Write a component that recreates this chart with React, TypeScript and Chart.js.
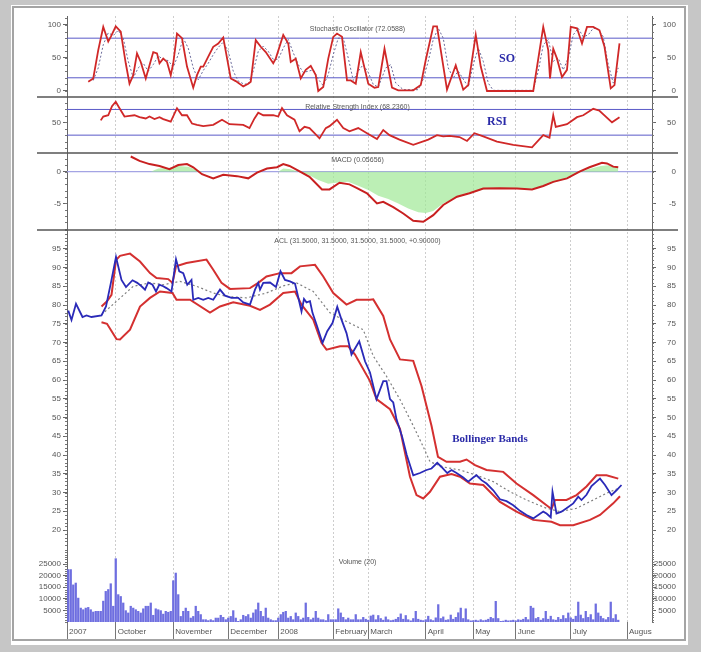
import React, { useEffect, useRef } from 'react';
import { Chart, registerables } from 'chart.js';
Chart.register(...registerables);

type P = [number, number];

// ---- x axis (trading-day index) ----
const monthLabels = ['2007', 'October', 'November', 'December', '2008', 'February', 'March', 'April', 'May', 'June', 'July', 'Augus'];
const monthIndex = [-0.5, 19, 42, 64, 84, 106, 120, 143, 162, 179, 201, 223.5];

// ---- Stochastic Oscillator ----
const soK: P[] = [[8,14],[10,19],[12,62],[14,97],[16,75],[17,82],[19,98],[21,90],[23,42],[24.5,11],[26,24],[27.5,57],[29,44],[31,19],[32.5,39],[34,59],[35.5,57],[36.5,42],[38,49],[39.5,44],[41,24],[42,42],[43.5,87],[45.5,80],[47.5,37],[50,5],[51.5,24],[53,37],[54,37],[56,52],[58,67],[60,72],[62,81],[65,19],[67,15],[70,7],[72,11],[73,14],[75,77],[77,67],[79,59],[82,42],[83,49],[86,85],[88,72],[89,44],[91,49],[93,19],[95,32],[97,38],[99,24],[100,0],[102,6],[104,49],[106,82],[107.5,87],[109.5,82],[111.5,16],[113,16],[115,11],[117,59],[120,11],[122.5,5],[124,6],[126.5,64],[129.5,5],[132,1],[138,1],[141,9],[143,47],[146,98],[147.5,98],[149,62],[151.5,2],[155,39],[158,2],[160,9],[163,85],[165,37],[167.5,0],[186,0],[190,97],[192,62],[192.7,19],[194,64],[195.5,49],[197.5,21],[199.5,32],[201,97],[203.5,95],[205.5,72],[207.5,97],[210,97],[212.5,92],[214.5,67],[217,4],[218.5,9],[220.5,72]];
const soD: P[] = [[10,16],[12,35],[14,70],[16,88],[18,84],[20,92],[22,80],[24,45],[26,20],[28,35],[30,42],[32,30],[34,40],[36,53],[38,48],[40,46],[42,36],[44,55],[46,80],[48,65],[50,35],[52,17],[54,31],[56,42],[58,55],[60,66],[62,74],[64,60],[66,30],[68,15],[70,11],[72,10],[74,30],[76,60],[78,68],[80,60],[82,48],[84,48],[86,65],[88,78],[90,58],[92,40],[94,28],[96,30],[98,32],[100,18],[102,8],[104,25],[106,55],[108,80],[110,80],[112,50],[114,16],[116,30],[118,40],[120,28],[122,10],[124,6],[127,35],[129,40],[131,12],[134,2],[140,2],[142,18],[144,45],[146,78],[148,95],[150,80],[152,35],[154,20],[156,30],[158,18],[160,6],[162,40],[164,65],[166,45],[168,12],[170,1],[186,1],[188,30],[190,70],[192,78],[194,45],[196,50],[198,32],[200,50],[202,85],[204,95],[206,82],[208,85],[210,95],[212,94],[214,82],[216,40],[218,12],[220,35]];
const soLevels = [80, 20];

// ---- RSI ----
const rsi: P[] = [[13,53],[14,59],[16,61],[17.5,75],[19,82],[20.5,72],[22.5,59],[24.5,60],[26.5,61],[28.5,58],[31,56],[32.5,59],[34.5,55],[36.5,58],[38,55],[41,51],[43.5,72],[45.5,61],[47.5,61],[49.5,48],[51.5,46],[54,44],[58,46],[61.5,54],[64.5,47],[70,46],[72.5,41],[74.5,56],[76,65],[78,61],[82,61],[84,59],[85.5,72],[87.5,61],[90.5,54],[92.5,36],[94.5,43],[96.5,41],[98.5,33],[100.5,25],[103,41],[104.5,44],[107.5,54],[110,41],[112.5,36],[116,41],[119.5,33],[123.5,24],[126,38],[128.5,30],[132.5,23],[138,15],[144,23],[147.5,30],[150,28],[152.5,29],[156.5,27],[159.5,21],[162.5,33],[166,28],[171.5,20],[178,15],[185.5,11],[190,30],[192.5,26],[194,61],[195,43],[199.5,47],[203.5,58],[206,61],[210,71],[212.5,68],[217.5,50],[220.5,58]];
const rsiLevels = [70, 30];

// ---- MACD ----
const macd: P[] = [[25,2.4],[28.5,1.7],[32.5,1.2],[36.5,0.9],[40.5,0.4],[44,1.05],[47.5,1.2],[50,0.7],[53.5,-0.4],[58,-1.05],[62,-0.5],[67.5,-0.7],[72,-1.05],[75.5,-0.15],[79.5,0.5],[83.5,0.7],[86,1.2],[88.5,0.9],[92,0.15],[96.5,-0.8],[101.5,-2.8],[104.5,-2.8],[108.5,-1.75],[112.5,-2.0],[115.5,-2.6],[119.5,-3.4],[123.5,-5.0],[126,-4.75],[130,-5.6],[134,-6.6],[138,-7.75],[142,-7.9],[146,-6.85],[150,-5.25],[155.5,-3.95],[160.5,-3.4],[166,-2.65],[172.5,-2.6],[179.5,-2.65],[185.5,-2.8],[190,-2.25],[194,-1.6],[199.5,-1.05],[204.5,0],[208.5,0.7],[213.5,1.4],[215.5,1.3],[218,0.8],[220,0.7]];
const macdSignal: P[] = [[33,0],[36,0.5],[40,0.6],[44,0.9],[48,0.8],[52,0.2],[54,0],[84,0],[86,0.5],[89,0.4],[92,0],[96,-0.5],[100,-1.3],[104,-1.9],[108,-1.7],[112,-1.6],[116,-2.2],[120,-2.9],[124,-3.8],[128,-4.3],[132,-5.0],[136,-5.8],[140,-6.4],[143,-6.5],[146,-6.2],[150,-5.0],[155,-4.1],[160,-3.5],[166,-2.8],[172,-2.6],[179,-2.6],[185,-2.7],[190,-2.3],[194,-1.7],[199,-1.1],[204,-0.2],[208,0.4],[213,0.9],[216,1.0],[220,0.8]];
const macdLevels = [0];

// ---- ACL price and Bollinger Bands ----
const acl: P[] = [[0,78.5],[1.3,76],[3.1,80.3],[5.7,76.8],[7.3,77.2],[9.3,76.8],[13.3,77.2],[15.1,79.6],[17.3,86.7],[19.1,92.8],[21.3,86.7],[23.1,84.8],[25.7,86.6],[27.6,85.9],[29.3,85],[30.7,84.1],[32,86],[33.7,85.4],[35.1,83.6],[36.4,85.4],[38,85],[39.3,84.5],[41.3,83.6],[43.1,92.2],[44.4,89],[46,88.5],[47.6,85.4],[49.3,86.7],[50,81.4],[52,81.9],[54,81.4],[56,81.9],[58,81.4],[60.7,84.1],[62.7,82.5],[65.3,81.9],[68,81.9],[70,80.7],[72.7,80.1],[74.7,84.1],[76,85.9],[76.7,84.1],[78,85.9],[80.7,86],[83.1,84.8],[84.9,89],[86.7,86.7],[88.7,86.3],[90.7,85.7],[91.6,83.2],[93.3,78.3],[94.3,81.6],[95.3,80.7],[96.7,81],[97.7,77.9],[99.3,74.8],[101.7,69.9],[103.6,73],[105.7,75.2],[107.6,79.5],[109.3,76.1],[111.3,72.5],[113.3,66.8],[116.4,70.3],[118.7,65],[120.7,62],[123.3,54.9],[126,59.7],[127.3,59.7],[128.7,54.9],[130,54],[131.3,49.5],[133.5,45],[135.4,40],[138,34.6],[140.7,35.2],[143.3,36],[145.3,36.4],[147.6,37.9],[149.3,36.8],[151.6,35.2],[153.3,36],[155.3,35.2],[158,34],[160,32.9],[162,34],[163.3,34.6],[165.3,33.3],[167.3,32.4],[170,30.6],[172.7,28.2],[175.3,27.7],[178,26.6],[180.7,25.1],[183.3,24],[186,23.1],[188,24],[190,24.9],[191.3,24.4],[193,23.4],[193.7,30.2],[195.3,24.4],[197.3,24.9],[199.3,25.8],[202,27.1],[204,28.9],[205.3,28],[207.3,29.4],[209.3,31.7],[211.3,32.9],[212.7,33.7],[214.7,32],[217.3,29.3],[219.3,30.6],[221.3,32]];
const bbUpper: P[] = [[13.3,79.6],[15.5,81],[17.3,82.7],[19.1,92],[20.7,93.1],[24.7,93.7],[28.7,91.6],[32.7,88.5],[35.3,87.2],[40,86.9],[41.7,85.9],[43.1,90.3],[47.3,91.2],[55.3,92.1],[58,89.4],[61.3,85.9],[64.7,84.3],[72.7,84.5],[76,85.9],[79.3,87.6],[84.7,88.5],[89.3,88.5],[92.7,90.3],[98.7,90.7],[102,87.6],[106,83.2],[111.3,80.1],[115.3,81.4],[120.7,81.4],[122,81.5],[126,77.1],[128.7,70.8],[132.7,65.5],[138,65.1],[141.3,58.4],[145.3,47.8],[147.9,39.5],[151.3,38.2],[156.7,38.2],[159.3,38.8],[162.7,37.3],[167.3,36],[174,35.5],[179.3,32.4],[186,29.3],[191.3,26.6],[193.3,25.6],[194.7,28],[199.3,28],[203.3,29.3],[207.3,31.6],[211.3,34.6],[215.3,34.6],[220,33.7]];
const bbLower: P[] = [[13.3,75.4],[15.5,75],[19.3,70.9],[20.7,70.8],[24.7,73.4],[28.7,79.6],[32.7,81.9],[36.7,83.6],[41.7,83.2],[43.3,81.4],[48.7,81.4],[56.7,78],[60.7,79.6],[66,80.7],[72.7,79.8],[76.7,78.7],[80.7,80.1],[86,83.2],[90.7,83.6],[93.3,80.1],[98,76.1],[101.3,69.9],[103.3,68.1],[108.7,69],[112,69],[114.7,66.8],[120.7,59.7],[123.3,54.9],[128.7,52.2],[132.7,47],[136.7,34.2],[139.3,29.3],[142,28.4],[144.7,30.2],[148.7,34.2],[153.3,34.9],[156.7,34.2],[160.7,32.4],[166,32],[172.7,27.5],[179.3,24.9],[186,22.7],[193.3,22.2],[196.7,21.3],[202,21.3],[208.7,22.7],[212.7,24],[218,27.1],[220.7,29]];
const bbMiddle: P[] = [[13.3,77.4],[19.3,81],[26,85],[32.7,85.9],[38,85.4],[44.7,86.3],[51.3,85],[58,83.2],[63.3,82.3],[71.3,81.9],[79.3,83.2],[86,85.1],[91.3,85.9],[98,83.6],[104.7,77.9],[111.3,75.6],[118,73.4],[122,66.4],[127.3,61],[132.7,54.8],[138,47.8],[142,42.2],[144.7,38.2],[150,36.8],[156.7,36],[163.3,34.6],[170,32.9],[176.7,30.2],[183.3,28],[191.3,25.8],[196.7,24.9],[203.3,25.8],[210,28],[215.3,29.8],[220,31.1]];

// ---- Volume (thousands), one bar per trading day from index 0 ----
const volume = [22.6,22.6,16,16.8,10.3,6,5.3,6,6.3,5.3,4.3,4.6,4.6,4.6,9,13.2,14,16.5,6.8,27.3,11.8,11,8.2,4.9,3.9,6.8,6,5.3,4.6,3.9,5.7,6.8,6.8,8.2,2.9,5.7,5.3,4.9,3.4,4.6,4.2,4.6,17.8,21.1,11.8,2.4,4.6,6,4.6,1.7,2.4,6.8,4.6,3.2,1,1,0.6,1,0.6,1.7,1.7,2.9,2,1,1.7,2.4,4.9,1.7,0.3,1,2.9,2.4,3.2,1.7,3.9,5.3,8.2,4.6,2.4,6,1.7,1,0.6,0.6,1.7,3.2,4.2,4.6,1.7,2.4,1,3.9,2.4,1,1.7,8.2,2,1,1.7,4.6,1.7,1,1,0.6,3.2,1,1,1,5.7,3.9,2,1,1.7,1,1,3.2,1,
  1.0,2.0,1.2,0.8,2.6,3.0,1.0,2.8,1.5,0.8,2.2,1.0,0.6,0.8,1.2,2.0,3.5,1.2,2.8,1.0,0.5,1.5,4.6,1.2,0.8,0.6,1.0,2.5,1.0,0.6,1.8,7.5,1.5,2.2,0.8,1.0,3.0,1.2,2.0,4.0,6.0,1.5,5.7,1.0,0.5,0.6,0.8,0.5,1.0,0.6,0.8,1.2,2.0,1.5,8.9,1.5,0.3,0.4,0.8,0.5,0.6,0.8,0.5,1.0,0.8,1.2,2.0,1.0,6.8,6.0,1.5,2.0,0.8,1.5,4.6,1.2,2.5,1.0,0.8,2.0,1.2,2.8,1.5,3.9,1.8,1.2,2.5,8.6,3.0,1.5,4.6,2.0,3.2,1.0,7.8,3.9,2.5,1.5,1.0,2.0,8.6,1.5,3.2,0.8];

const soTicks = [0, 50, 100];
const rsiTicks = [50];
const macdTicks = [-5, 0];
const aclTicks = [20, 25, 30, 35, 40, 45, 50, 55, 60, 65, 70, 75, 80, 85, 90, 95];
const volTicks = [5, 10, 15, 20, 25];

const titles: Record<string, string> = {
  so: 'Stochastic Oscillator (72.0588)',
  rsi: 'Relative Strength Index (68.2360)',
  macd: 'MACD (0.05656)',
  acl: 'ACL (31.5000, 31.5000, 31.5000, 31.5000, +0.90000)',
  vol: 'Volume (20)',
};

const F = '"Liberation Sans Narrow", "Arial Narrow", "Liberation Sans", Arial, sans-serif';
const X_MIN = -0.5;
const X_MAX = 233.5;

const xy = (pts: P[]) => pts.map(([x, y]) => ({ x, y }));
const levelLine = (v: number) => [{ x: X_MIN, y: v }, { x: X_MAX, y: v }];

function line(data: any[], yAxisID: string, color: string, width: number, order: number, extra: any = {}) {
  return { type: 'line', data, yAxisID, xAxisID: 'x', borderColor: color, borderWidth: width, pointRadius: 0, tension: 0, fill: false, order, ...extra };
}

function yScale(pos: 'left' | 'right', weight: number, stackWeight: number, min: number, max: number, vals: number[], cb?: (v: number) => string) {
  return {
    type: 'linear', position: pos, stack: pos === 'left' ? 'L' : 'R', stackWeight, weight, min, max,
    afterBuildTicks: (s: any) => { s.ticks = vals.map((v) => ({ value: v })); },
    afterFit: (s: any) => { s.width = pos === 'left' ? 67 : 24; },
    grid: { drawOnChartArea: false, drawTicks: true, tickLength: 4, tickColor: '#666', tickWidth: 1 },
    border: { display: true, color: '#666', width: 1 },
    ticks: { autoSkip: false, padding: 2, color: '#555', font: { family: F, size: 8 }, crossAlign: pos === 'left' ? 'near' : 'far', callback: cb || ((v: number) => String(v)) },
  };
}

const volFmt = (v: number) => String(v * 1000);

const overlayPlugin = {
  id: 'overlay',
  afterDraw(chart: any) {
    const ctx = chart.ctx;
    const ca = chart.chartArea;
    ctx.save();
    // minor ticks
    const minor: [string, number][] = [['so', 10], ['rsi', 10], ['macd', 1], ['acl', 1], ['vol', 1], ['soR', 10], ['rsiR', 10], ['macdR', 1], ['aclR', 1], ['volR', 1]];
    ctx.strokeStyle = '#777';
    ctx.lineWidth = 1;
    ctx.beginPath();
    for (const [id, step] of minor) {
      const s = chart.scales[id];
      const left = s.position === 'left';
      const x0 = left ? ca.left : ca.right;
      for (let v = Math.ceil(s.min / step) * step; v <= s.max; v += step) {
        const y = Math.round(s.getPixelForValue(v)) + 0.5;
        ctx.moveTo(x0, y);
        ctx.lineTo(x0 + (left ? -2 : 2), y);
      }
    }
    ctx.stroke();
    // panel separators
    ctx.strokeStyle = '#555';
    ctx.lineWidth = 1.5;
    ctx.beginPath();
    for (const id of ['rsi', 'macd', 'acl']) {
      const y = Math.round(chart.scales[id].top);
      ctx.moveTo(37, y);
      ctx.lineTo(678, y);
    }
    ctx.stroke();
    // panel titles
    const cx = (ca.left + ca.right) / 2 - 2;
    const off: Record<string, number> = { so: 13, rsi: 10, macd: 7, acl: 11, vol: 14 };
    ctx.fillStyle = '#555';
    ctx.font = `7px ${F}`;
    ctx.textAlign = 'center';
    ctx.textBaseline = 'middle';
    for (const id of Object.keys(titles)) {
      ctx.fillText(titles[id], cx, chart.scales[id].top + off[id]);
    }
    // annotations
    ctx.fillStyle = '#2a2aa8';
    ctx.font = 'bold 12px "Liberation Serif", "Times New Roman", serif';
    const xs = chart.scales.x;
    ctx.fillText('SO', xs.getPixelForValue(175.5), chart.scales.so.getPixelForValue(48));
    ctx.fillText('RSI', xs.getPixelForValue(171.5), chart.scales.rsi.getPixelForValue(50));
    ctx.font = 'bold 11px "Liberation Serif", "Times New Roman", serif';
    ctx.fillText('Bollinger Bands', xs.getPixelForValue(168.7), chart.scales.acl.getPixelForValue(44.3));
    ctx.restore();
  },
};

export default function App() {
  const ref = useRef<HTMLCanvasElement | null>(null);
  useEffect(() => {
    if (!ref.current) return;
    const datasets: any[] = [
      // Stochastic
      ...soLevels.map((v) => line(levelLine(v), 'so', '#5a5ac8', 1, 6)),
      line(xy(soD), 'so', '#6a6a9a', 1, 2, { borderDash: [2, 2] }),
      line(xy(soK), 'so', '#d02828', 1.8, 1),
      // RSI
      ...rsiLevels.map((v) => line(levelLine(v), 'rsi', '#5a5ac8', 1, 6)),
      line(xy(rsi), 'rsi', '#d02828', 1.8, 1),
      // MACD
      ...macdLevels.map((v) => line(levelLine(v), 'macd', '#a4a4e4', 1.2, 5)),
      line(xy(macdSignal), 'macd', 'rgba(0,0,0,0)', 0, 4, { fill: 'origin', backgroundColor: 'rgba(160,232,150,0.7)' }),
      line(xy(macd), 'macd', '#c82020', 2, 1),
      // ACL + Bollinger
      line(xy(bbMiddle), 'acl', '#808080', 1.2, 4, { borderDash: [2, 2.5] }),
      line(xy(bbUpper), 'acl', '#d43030', 2, 3),
      line(xy(bbLower), 'acl', '#d43030', 2, 3),
      line(xy(acl), 'acl', '#2a2ab8', 1.8, 2),
      // Volume
      {
        type: 'bar', data: volume.map((v, i) => ({ x: i, y: v })), yAxisID: 'vol', xAxisID: 'x',
        backgroundColor: '#6e6ee0', borderWidth: 0, barThickness: 1.6, grouped: false, order: 7,
      },
    ];
    const chart = new Chart(ref.current, {
      type: 'line',
      data: { datasets },
      options: {
        animation: false,
        responsive: false,
        maintainAspectRatio: false,
        events: [],
        layout: { padding: { top: 16, left: 0, right: 25, bottom: 0 } },
        plugins: { legend: { display: false }, tooltip: { enabled: false }, title: { display: false } },
        scales: {
          x: {
            type: 'linear', position: 'bottom', min: X_MIN, max: X_MAX, offset: false,
            afterBuildTicks: (s: any) => { s.ticks = monthIndex.map((v) => ({ value: v })); },
            afterFit: (s: any) => { s.height = 30; },
            ticks: {
              autoSkip: false, maxRotation: 0, minRotation: 0, align: 'start', labelOffset: 2, padding: -12,
              color: '#555', font: { family: F, size: 8 },
              callback: (_v: any, i: number) => monthLabels[i],
            },
            grid: { offset: false, drawOnChartArea: true, color: '#cdcdcd', lineWidth: 1, drawTicks: true, tickLength: 17, tickColor: '#777', tickWidth: 1 },
            border: { display: false, dash: [2, 2] },
          },
          so: yScale('left', 5, 81, -9.1, 113.6, soTicks),
          rsi: yScale('left', 4, 56, 2.2, 89.4, rsiTicks),
          macd: yScale('left', 3, 77, -9.2, 2.95, macdTicks),
          acl: yScale('left', 2, 318, 15.2, 100, aclTicks),
          vol: yScale('left', 1, 74, 0, 31.9, volTicks, volFmt),
          soR: yScale('right', 1, 81, -9.1, 113.6, soTicks),
          rsiR: yScale('right', 2, 56, 2.2, 89.4, rsiTicks),
          macdR: yScale('right', 3, 77, -9.2, 2.95, macdTicks),
          aclR: yScale('right', 4, 318, 15.2, 100, aclTicks),
          volR: yScale('right', 5, 74, 0, 31.9, volTicks, volFmt),
        } as any,
      },
      plugins: [overlayPlugin],
    } as any);
    return () => chart.destroy();
  }, []);

  return (
    <div style={{ position: 'absolute', left: 0, top: 0, width: 701, height: 652, background: '#c6c6c6', overflow: 'hidden' }}>
      <div style={{ position: 'absolute', left: 11, top: 5, width: 677, height: 640, background: '#ffffff' }} />
      <div style={{ position: 'absolute', left: 12, top: 6, width: 670, height: 631, border: '2px solid #a4a4a4', background: '#ffffff' }} />
      <canvas ref={ref} width={701} height={652} style={{ position: 'absolute', left: 0, top: 0, width: 701, height: 652 }} />
    </div>
  );
}
